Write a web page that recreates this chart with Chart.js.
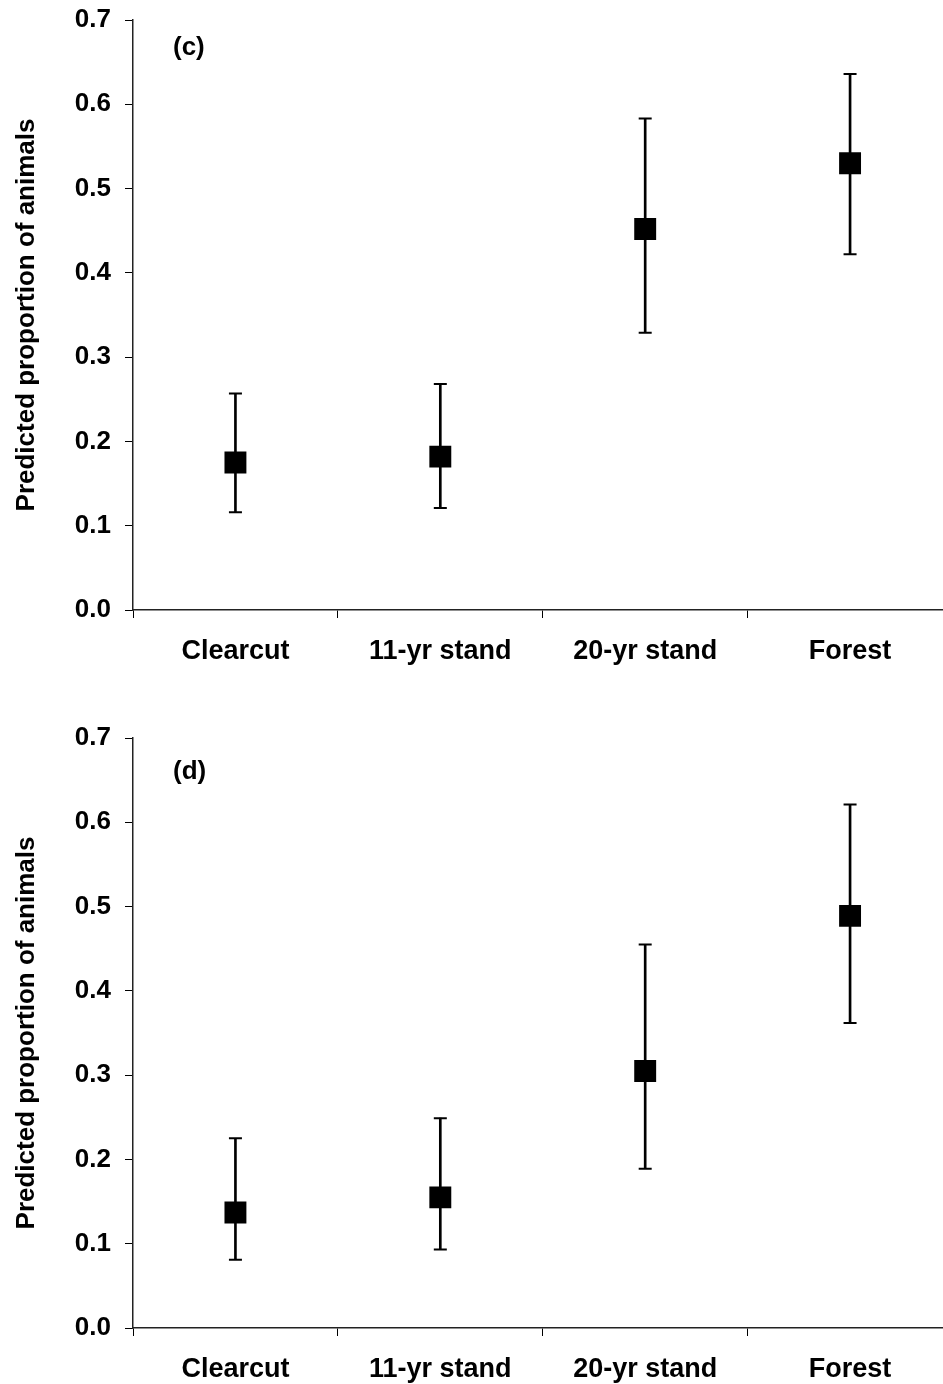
<!DOCTYPE html>
<html lang="en">
<head>
  <meta charset="UTF-8">
  <script src="https://cdn.jsdelivr.net/npm/chart.js"></script>
  <title>Predicted proportion of animals</title>
  <style>
    html, body {
      margin: 0;
      padding: 0;
      background: #fff;
      overflow: hidden;
      width: 943px;
      height: 1384px;
    }
    #panelC { position: absolute; left: 0; top: -20px; }
    #panelD { position: absolute; left: 0; top: 666px; }
  </style>
</head>
<body>
  <canvas id="panelC" width="968" height="686"></canvas>
  <canvas id="panelD" width="968" height="718"></canvas>

  <script>
    const categories = ['Clearcut', '11-yr stand', '20-yr stand', 'Forest'];
    const yTickLabels = ['0.0', '0.1', '0.2', '0.3', '0.4', '0.5', '0.6', '0.7'];

    // panel (c)
    const meanC = [0.175, 0.182, 0.452, 0.530];
    const upperC = [0.257, 0.268, 0.583, 0.636];
    const lowerC = [0.116, 0.121, 0.329, 0.422];

    // panel (d)
    const meanD = [0.137, 0.155, 0.305, 0.489];
    const upperD = [0.225, 0.249, 0.455, 0.621];
    const lowerD = [0.081, 0.093, 0.189, 0.362];

    const FONT = '"Liberation Sans", Arial, sans-serif';

    const panelLabel = {
      id: 'panelLabel',
      afterDraw(chart, args, opts) {
        const ctx = chart.ctx;
        const area = chart.chartArea;
        ctx.save();
        ctx.font = 'bold 26px ' + FONT;
        ctx.fillStyle = '#000';
        ctx.textBaseline = 'middle';
        ctx.fillText(opts.text, area.left + opts.dx, area.top + opts.dy);
        ctx.restore();
      }
    };

    function makeChart(id, label, mean, upper, lower, padTop, labelDy) {
      const ctx = document.getElementById(id).getContext('2d');
      return new Chart(ctx, {
        type: 'bar',
        data: {
          labels: categories,
          datasets: [
            {
              // whiskers
              type: 'bar',
              data: lower.map((lo, i) => [lo, upper[i]]),
              backgroundColor: '#000',
              borderWidth: 0,
              barThickness: 2,
              order: 3
            },
            {
              // upper caps
              type: 'line',
              data: upper,
              showLine: false,
              pointStyle: 'line',
              pointRadius: 6.5,
              pointBorderWidth: 2,
              pointBorderColor: '#000',
              order: 2
            },
            {
              // lower caps
              type: 'line',
              data: lower,
              showLine: false,
              pointStyle: 'line',
              pointRadius: 6.5,
              pointBorderWidth: 2,
              pointBorderColor: '#000',
              order: 2
            },
            {
              // means
              type: 'line',
              data: mean,
              showLine: false,
              pointStyle: 'rect',
              pointRadius: 15.5,
              pointBorderWidth: 0,
              pointBackgroundColor: '#000',
              order: 1
            }
          ]
        },
        options: {
          responsive: false,
          animation: false,
          layout: { padding: { top: padTop, right: 7, bottom: 0, left: 0 } },
          plugins: {
            legend: { display: false },
            tooltip: { enabled: false },
            panelLabel: { text: label, dx: 40, dy: labelDy }
          },
          scales: {
            x: {
              offset: true,
              grid: {
                offset: true,
                drawOnChartArea: false,
                drawTicks: true,
                tickLength: 8,
                color: '#000',
                lineWidth: 1
              },
              border: { display: true, color: '#222', width: 1.5 },
              ticks: {
                color: '#000',
                padding: 17,
                maxRotation: 0,
                font: { family: FONT, size: 27, weight: 'bold' }
              },
              afterFit(scale) { scale.height = 56; }
            },
            y: {
              min: 0,
              max: 0.7,
              grid: {
                drawOnChartArea: false,
                drawTicks: true,
                tickLength: 8,
                color: '#000',
                lineWidth: 1
              },
              border: { display: true, color: '#222', width: 1.5 },
              ticks: {
                stepSize: 0.1,
                color: '#000',
                padding: 14,
                font: { family: FONT, size: 26, weight: 'bold' },
                callback: (v, i) => yTickLabels[i] !== undefined ? yTickLabels[i] : v.toFixed(1)
              },
              title: {
                display: true,
                text: 'Predicted proportion of animals',
                color: '#000',
                padding: { top: 11, bottom: 0 },
                font: { family: FONT, size: 26, weight: 'bold' }
              },
              afterFit(scale) { scale.width = 133; }
            }
          }
        },
        plugins: [panelLabel]
      });
    }

    makeChart('panelC', '(c)', meanC, upperC, lowerC, 40, 28);
    makeChart('panelD', '(d)', meanD, upperD, lowerD, 72, 34);
  </script>
</body>
</html>
